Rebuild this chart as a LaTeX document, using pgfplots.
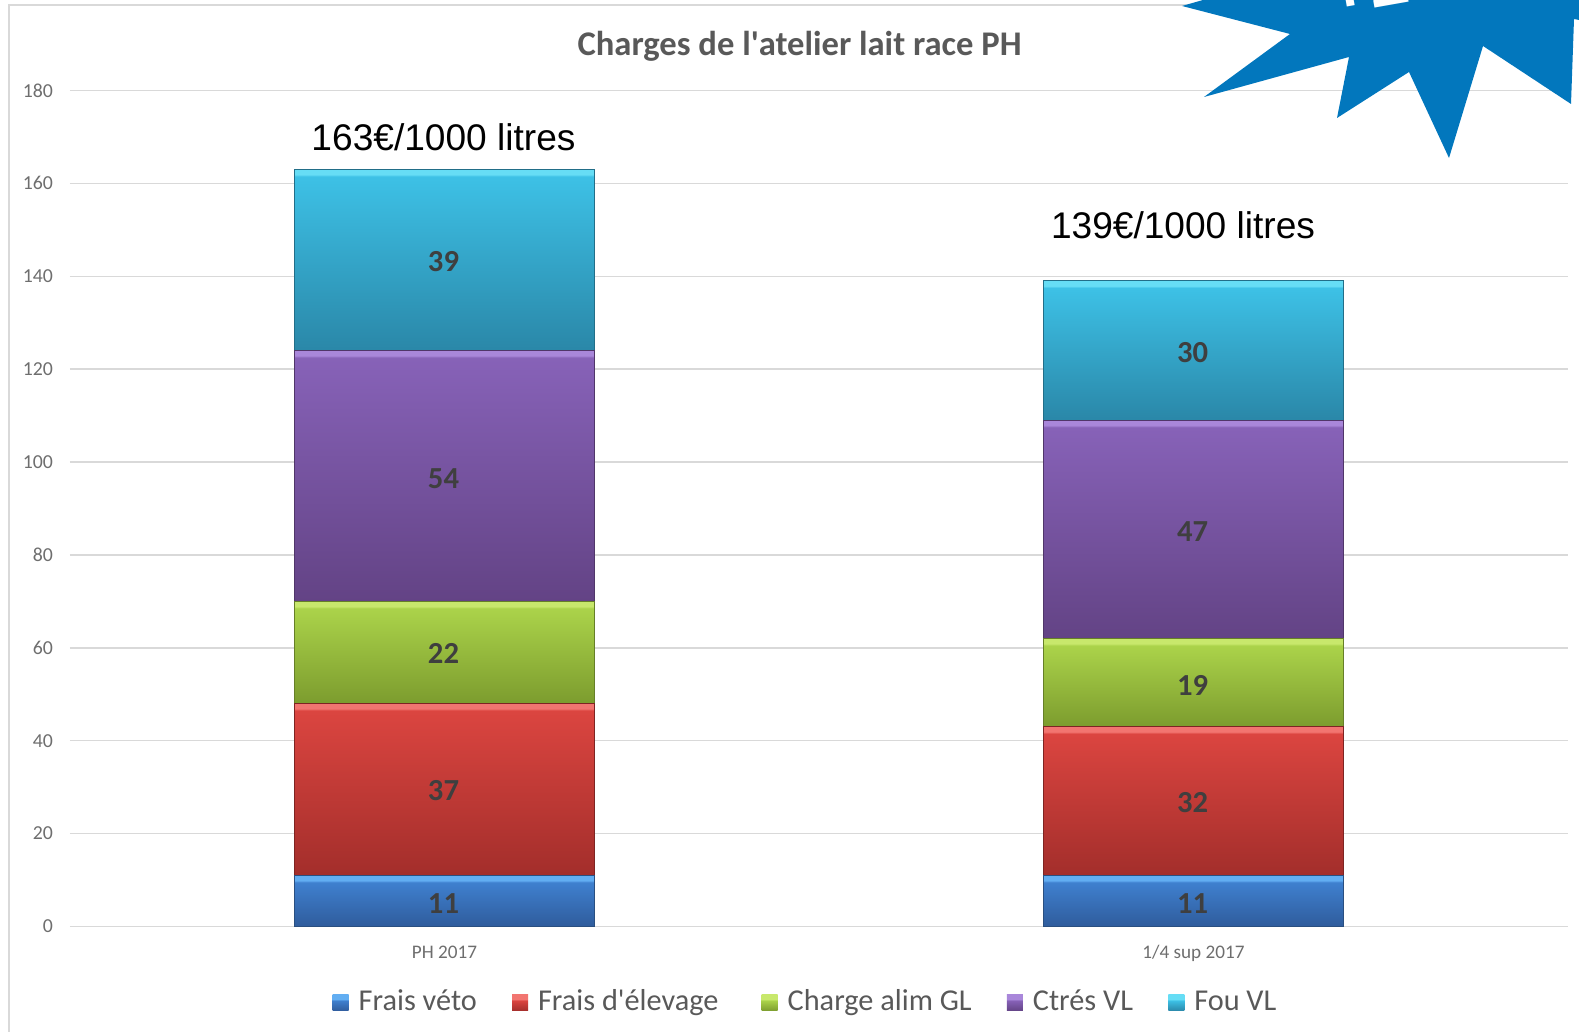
\documentclass[border=0pt]{standalone}
\usepackage{pgfplots}
\pgfplotsset{compat=1.18}
\usepackage{fontspec}
\setmainfont{Carlito}
\newfontfamily\arialf{Liberation Sans}
\definecolor{txtgrey}{HTML}{595959}
\definecolor{tickgrey}{HTML}{6E6E6E}
\definecolor{gridgrey}{HTML}{D9D9D9}
\definecolor{starblue}{HTML}{0277BD}
\definecolor{lblgrey}{HTML}{3F3F3F}
\definecolor{bluebot}{HTML}{2F5C9C}\definecolor{bluetop}{HTML}{3F80CF}\definecolor{bluehi}{HTML}{62AEF2}\definecolor{blueed}{HTML}{2A4F80}
\definecolor{redbot}{HTML}{A32E2B}\definecolor{redtop}{HTML}{DB4540}\definecolor{redhi}{HTML}{F27570}\definecolor{reded}{HTML}{7E2422}
\definecolor{grnbot}{HTML}{7C9C2E}\definecolor{grntop}{HTML}{ABD34A}\definecolor{grnhi}{HTML}{C8E86C}\definecolor{grned}{HTML}{667F28}
\definecolor{purbot}{HTML}{634385}\definecolor{purtop}{HTML}{8762B8}\definecolor{purhi}{HTML}{A987DA}\definecolor{pured}{HTML}{503669}
\definecolor{cyabot}{HTML}{2A87A8}\definecolor{cyatop}{HTML}{3DC1E6}\definecolor{cyahi}{HTML}{66DDF5}\definecolor{cyaed}{HTML}{226E88}
\newcommand\mkshade[4]{\pgfdeclareverticalshading{#1}{100bp}{color(0bp)=(#2bot); color(25bp)=(#2bot); color(#3bp)=(#2top); color(#4bp)=(#2hi); color(75bp)=(#2hi); color(100bp)=(#2hi)}}
\mkshade{aone}{blue}{68.15}{70.1}
\mkshade{atwo}{red}{72.97}{73.55}
\mkshade{athree}{grn}{71.57}{72.55}
\mkshade{afour}{pur}{73.6}{74.0}
\mkshade{afive}{cya}{73.07}{73.62}
\mkshade{bone}{blue}{68.15}{70.1}
\mkshade{btwo}{red}{72.65}{73.32}
\mkshade{bthree}{grn}{71.0}{72.16}
\mkshade{bfour}{pur}{73.4}{73.85}
\mkshade{bfive}{cya}{72.5}{73.2}
\mkshade{lone}{blue}{58}{61}
\mkshade{ltwo}{red}{58}{61}
\mkshade{lthree}{grn}{58}{61}
\mkshade{lfour}{pur}{58}{61}
\mkshade{lfive}{cya}{58}{61}
\pgfplotsset{common/.style={
  at={(35pt,52.75pt)},anchor=south west,
  scale only axis,width=749pt,height=418pt,
  xmin=-0.5,xmax=1.5,ymin=0,ymax=180,clip=false}}
\begin{document}
\begin{tikzpicture}
\path[use as bounding box,clip] (0pt,0pt) rectangle (789.5pt,516pt);
\begin{scope}[shift={(0pt,516pt)},x=0.5pt,y=-0.5pt]
\draw[gridgrey,line width=1.2pt] (9,1032) -- (9,5) -- (1579,5);
\end{scope}
\begin{axis}[common,
  ybar stacked,bar width=0.4,
  xtick={0,1},xticklabels={PH 2017,1/4 sup 2017},
  ytick={0,20,...,180},
  ymajorgrids,grid style={gridgrey,line width=0.7pt},
  axis line style={draw=none},
  major tick length=0pt,
  tick label style={text=tickgrey,/pgf/number format/assume math mode=true},
  yticklabel style={xshift=-5pt,font=\fontsize{9.9}{11}\selectfont},
  xticklabel style={yshift=-6pt,font=\fontsize{9.6}{11}\selectfont},
  title={\bfseries Charges de l\textquotesingle atelier lait race PH},
  title style={at={(0.5,1)},anchor=center,yshift=16pt,xshift=-9.7pt,font=\fontsize{17.3}{19}\selectfont,text=txtgrey},
  legend style={at={(0.4917,-0.0915)},anchor=center,draw=none,fill=none,font=\fontsize{15.15}{17}\selectfont,text=txtgrey,
    /tikz/nodes={text height=10.5pt,text depth=3pt},
    /tikz/every even column/.append style={column sep=15.6pt},
    /tikz/every odd column/.append style={column sep=3pt},inner sep=0pt},
  legend columns=5,
  legend image code/.code={\path[#1,draw=none] (0pt,-4pt) rectangle (8pt,4pt);},
]
\addplot[forget plot,shade,shading=aone,draw=blueed,line width=0.5pt] coordinates {(0,11)};
\addplot[forget plot,shade,shading=atwo,draw=reded,line width=0.5pt] coordinates {(0,37)};
\addplot[forget plot,shade,shading=athree,draw=grned,line width=0.5pt] coordinates {(0,22)};
\addplot[forget plot,shade,shading=afour,draw=pured,line width=0.5pt] coordinates {(0,54)};
\addplot[forget plot,shade,shading=afive,draw=cyaed,line width=0.5pt] coordinates {(0,39)};
\addlegendimage{shade,shading=lone}
\addlegendimage{shade,shading=ltwo}
\addlegendimage{shade,shading=lthree}
\addlegendimage{shade,shading=lfour}
\addlegendimage{shade,shading=lfive}
\legend{Frais véto,Frais d\textquotesingle élevage\hspace*{4pt},Charge alim GL,Ctrés VL,Fou VL}
\end{axis}
\begin{axis}[common,hide axis,ybar stacked,bar width=0.4]
\addplot[shade,shading=bone,draw=blueed,line width=0.5pt] coordinates {(1,11)};
\addplot[shade,shading=btwo,draw=reded,line width=0.5pt] coordinates {(1,32)};
\addplot[shade,shading=bthree,draw=grned,line width=0.5pt] coordinates {(1,19)};
\addplot[shade,shading=bfour,draw=pured,line width=0.5pt] coordinates {(1,47)};
\addplot[shade,shading=bfive,draw=cyaed,line width=0.5pt] coordinates {(1,30)};
\end{axis}
\begin{axis}[common,hide axis]
\addplot[draw=none,mark=none,nodes near coords,point meta=explicit symbolic,
  every node near coord/.append style={anchor=center,inner sep=0pt,xshift=-0.5pt,font=\fontsize{15.3}{17}\selectfont\bfseries,text=lblgrey}]
  table[meta=v,row sep=\\] {
  x y v\\
  0 5 11\\ 0 29.2 37\\ 0 58.7 22\\ 0 96.4 54\\ 0 143.2 39\\
  1 5 11\\ 1 26.6 32\\ 1 52 19\\ 1 85.1 47\\ 1 123.5 30\\
  };
\node[font=\arialf\fontsize{18.55}{20}\selectfont,text=black,anchor=center,xshift=-0.5pt] at (axis cs:0,170) {163€/1000 litres};
\node[font=\arialf\fontsize{18.55}{20}\selectfont,text=black,anchor=center] at (axis cs:0.986,151) {139€/1000 litres};
\end{axis}
\begin{scope}[shift={(0pt,516pt)},x=0.5pt,y=-0.5pt]
\fill[starblue] (1203,0) -- (1182,6) -- (1290,34) -- (1204,97) -- (1349,57) -- (1337,118) -- (1409,72) -- (1449,158) -- (1483,46) -- (1571,104) -- (1574,19) -- (1579,20) -- (1579,0) -- cycle;
\node[rotate=10,anchor=base west,inner sep=0pt,text=white,font=\arialf\fontsize{36}{38}\selectfont\bfseries] at (1331,15.5) {+24€};
\end{scope}
\end{tikzpicture}
\end{document}
